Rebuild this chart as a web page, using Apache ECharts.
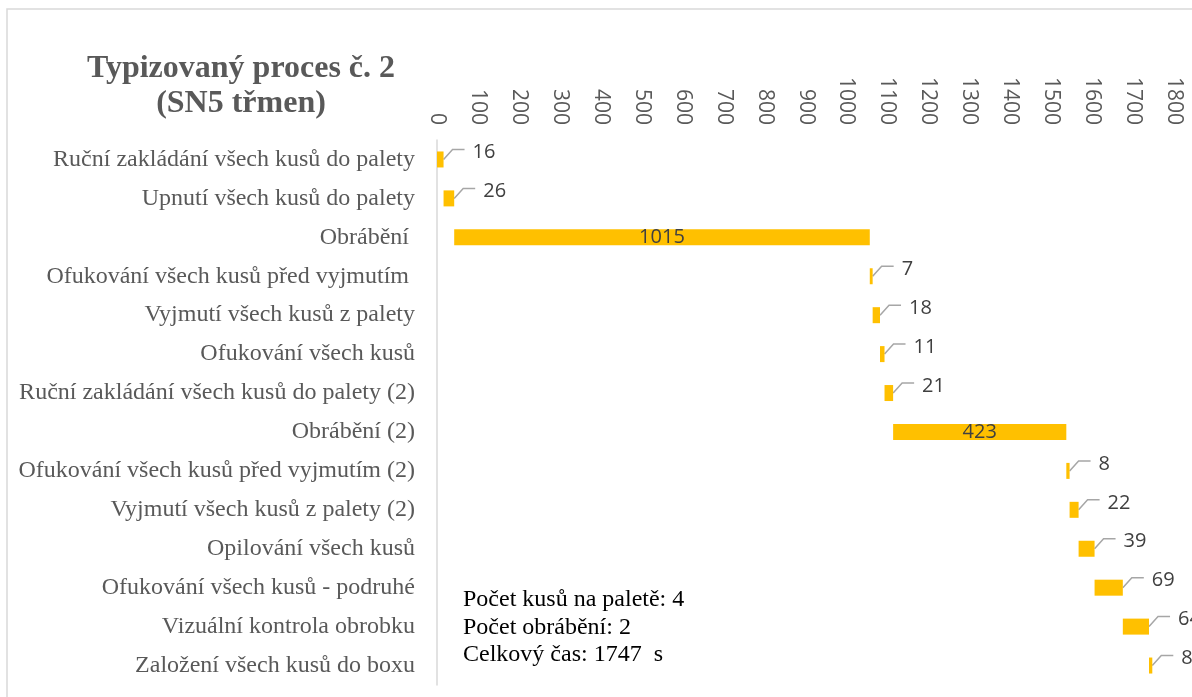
<!DOCTYPE html>
<html>
<head>
<meta charset="utf-8">
<script src="https://cdn.jsdelivr.net/npm/echarts@6/dist/echarts.min.js"></script>
<style>
  html, body { margin: 0; padding: 0; background: #fff; }
  #chart { width: 1192px; height: 697px; }
</style>
</head>
<body>
<div id="chart"></div>
<script>
// kroky procesu (shora dolu)
var categories = [
    'Ruční zakládání všech kusů do palety',
    'Upnutí všech kusů do palety',
    'Obrábění ',
    'Ofukování všech kusů před vyjmutím ',
    'Vyjmutí všech kusů z palety',
    'Ofukování všech kusů',
    'Ruční zakládání všech kusů do palety (2)',
    'Obrábění (2)',
    'Ofukování všech kusů před vyjmutím (2)',
    'Vyjmutí všech kusů z palety (2)',
    'Opilování všech kusů',
    'Ofukování všech kusů - podruhé',
    'Vizuální kontrola obrobku',
    'Založení všech kusů do boxu'
];
// doba trvani jednotlivych kroku [s]
var durations = [16, 26, 1015, 7, 18, 11, 21, 423, 8, 22, 39, 69, 64, 8];
var xTicks = { min: 0, max: 1800, interval: 100 };
var infoLines = ['Počet kusů na paletě: 4', 'Počet obrábění: 2', 'Celkový čas: 1747  s'];

// zacatek kazdeho kroku = soucet predchozich
var starts = [];
var acc = 0;
for (var i = 0; i < durations.length; i++) {
    starts.push(acc);
    acc += durations[i];
}
// popisky s odkazovou carou jen u kratkych kroku
var calloutData = [];
for (var j = 0; j < durations.length; j++) {
    if (durations[j] < 100) calloutData.push([starts[j] + durations[j], j, durations[j]]);
}

var myChart = echarts.init(document.getElementById('chart'));
var option = {
    animation: false,
    title: {
        text: 'Typizovaný proces č. 2\n(SN5 třmen)',
        left: 236,
        top: 46,
        textAlign: 'center',
        textStyle: {
            fontFamily: 'Liberation Serif',
            fontWeight: 'bold',
            fontSize: 32,
            lineHeight: 35,
            color: '#595959'
        }
    },
    grid: { left: 437, right: 18, top: 140, bottom: 12 },
    xAxis: {
        type: 'value',
        position: 'top',
        min: xTicks.min,
        max: xTicks.max,
        interval: xTicks.interval,
        axisLine: { show: false },
        axisTick: { show: false },
        splitLine: { show: false },
        axisLabel: {
            rotate: 90,
            margin: 15,
            color: '#595959',
            fontFamily: 'Open Sans',
            fontSize: 21,
            formatter: function (v) { return String(v); }
        }
    },
    yAxis: {
        type: 'category',
        inverse: true,
        data: categories,
        axisLine: { show: true, lineStyle: { color: '#d9d9d9', width: 1.5 } },
        axisTick: { show: false },
        axisLabel: {
            margin: 22,
            color: '#595959',
            fontFamily: 'Liberation Serif',
            fontSize: 24
        }
    },
    series: [
        {
            name: 'start',
            type: 'bar',
            stack: 'g',
            barWidth: 16,
            itemStyle: { color: 'transparent' },
            data: starts
        },
        {
            name: 'doba',
            type: 'bar',
            stack: 'g',
            barWidth: 16,
            itemStyle: { color: '#FFC000' },
            label: {
                show: true,
                position: 'inside',
                color: '#404040',
                fontFamily: 'Open Sans',
                fontSize: 20,
                formatter: function (p) { return p.value >= 100 ? p.value : ''; }
            },
            data: durations
        },
        {
            name: 'popisky',
            type: 'custom',
            data: calloutData,
            renderItem: function (params, api) {
                var pt = api.coord([api.value(0), api.value(1)]);
                var x = pt[0], y = pt[1];
                return {
                    type: 'group',
                    children: [
                        {
                            type: 'polyline',
                            shape: { points: [[x, y], [x + 9, y - 10], [x + 21, y - 10]] },
                            style: { stroke: '#a6a6a6', lineWidth: 1.5, fill: null }
                        },
                        {
                            type: 'text',
                            x: x + 29,
                            y: y - 7,
                            style: {
                                text: String(api.value(2)),
                                fill: '#404040',
                                font: '20px "Open Sans"',
                                verticalAlign: 'middle',
                                align: 'left'
                            }
                        }
                    ]
                };
            }
        }
    ],
    graphic: [
        {
            type: 'rect',
            shape: { x: 7, y: 9, width: 1300, height: 800 },
            style: { fill: null, stroke: '#d9d9d9', lineWidth: 1.5 },
            silent: true
        },
        {
            type: 'text',
            left: 463,
            top: 586,
            style: {
                text: infoLines.join('\n'),
                font: '24px "Liberation Serif"',
                lineHeight: 27.5,
                fill: '#000000'
            }
        }
    ]
};
myChart.setOption(option);
window.onresize = function () {
    myChart.resize();
};
</script>
</body>
</html>
